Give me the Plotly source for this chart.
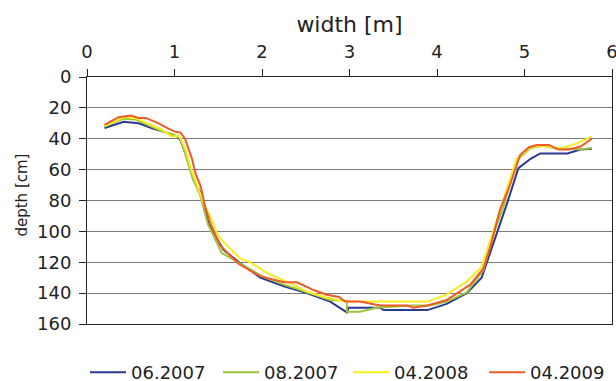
import plotly.graph_objects as go

# ---- data ----
names = ["06.2007", "08.2007", "04.2008", "04.2009"]
colors = ["#2B3990", "#9CC43C", "#F7EC1C", "#F05A28"]

x_0607 = [0.20, 0.42, 0.59, 0.76, 0.91, 1.03, 1.07, 1.14, 1.22, 1.30, 1.39, 1.56, 1.75, 1.98, 2.25, 2.51,
          2.78, 2.97, 2.99, 3.35, 3.39, 3.89, 4.11, 4.34, 4.51, 4.69, 4.80, 4.93, 5.07, 5.18, 5.49, 5.64, 5.77]
y_0607 = [33, 29, 30, 33.5, 36, 38.5, 41, 52, 67, 75, 95, 112, 120.5, 130, 135.5, 140,
          145.5, 152.5, 149.5, 149.5, 151, 151, 147, 140, 130, 101, 82, 59, 53, 49.5, 49.5, 47, 46.5]

x_0807 = [0.20, 0.42, 0.55, 0.70, 0.85, 1.00, 1.07, 1.14, 1.21, 1.29, 1.38, 1.54, 1.75, 2.00, 2.25, 2.50,
          2.78, 2.97, 2.97, 3.12, 3.31, 3.70, 3.92, 4.11, 4.34, 4.53, 4.65, 4.76, 4.91, 5.07, 5.22, 5.37,
          5.52, 5.64, 5.77]
y_0807 = [32, 27, 27.5, 31, 35, 37.5, 40, 53, 66, 76, 95, 114, 121, 129, 134.5, 139,
          144.5, 145, 152, 152, 149.5, 148, 148, 145.5, 139.5, 125, 101, 84, 54, 46, 44.5, 46.5,
          46.5, 47, 46]

x_0408 = [0.20, 0.42, 0.55, 0.70, 0.85, 0.97, 1.05, 1.12, 1.19, 1.27, 1.35, 1.41, 1.49, 1.56, 1.75, 1.87,
          2.06, 2.30, 2.51, 2.74, 2.97, 3.35, 3.89, 4.11, 4.34, 4.51, 4.65, 4.76, 4.91, 5.07, 5.22, 5.41,
          5.60, 5.77]
y_0408 = [32, 26, 26.5, 30, 34, 38.5, 38, 46, 60, 72, 84, 90.5, 102, 107, 117.5, 120.2,
          127, 133, 139, 143, 145.5, 145.5, 145.5, 141, 132.5, 123, 99, 80, 53, 45.5, 44.5, 46.3,
          43, 38.5]

x_0409 = [0.20, 0.36, 0.50, 0.59, 0.67, 0.80, 0.93, 1.01, 1.07, 1.12, 1.20, 1.24, 1.30, 1.35, 1.41, 1.52,
          1.73, 1.98, 2.25, 2.40, 2.59, 2.74, 2.88, 2.95, 3.12, 3.35, 3.66, 3.73, 3.89, 4.11, 4.38, 4.53,
          4.61, 4.72, 4.84, 4.95, 5.05, 5.14, 5.28, 5.39, 5.51, 5.64, 5.77]
y_0409 = [31, 26, 25, 26.5, 26.5, 29.5, 33.5, 35.5, 36, 40, 53, 62.5, 71, 84, 95, 109,
          121, 129, 133, 133, 138, 141, 142.5, 145.5, 145.5, 148, 148, 149.5, 148, 144.5, 134.5, 124,
          110, 86, 69, 50.5, 45.5, 44, 44, 47, 47, 45, 40]

x_ticks = [0, 1, 2, 3, 4, 5, 6]
y_ticks = [0, 20, 40, 60, 80, 100, 120, 140, 160]

series = [(x_0607, y_0607), (x_0807, y_0807), (x_0408, y_0408), (x_0409, y_0409)]

W, H = 616, 381
legend_ids = ["legend", "legend2", "legend3", "legend4"]
legend_left_px = [85, 218, 348, 484]

fig = go.Figure()
for (xs, ys), nm, col, lid in zip(series, names, colors, legend_ids):
    fig.add_trace(go.Scatter(x=xs, y=ys, mode="lines", name=nm, legend=lid,
                             line=dict(color=col, width=2)))

font_family = "DejaVu Sans, sans-serif"
layout_legends = {}
for lid, lx in zip(legend_ids, legend_left_px):
    layout_legends[lid] = dict(orientation="h", xref="container", x=lx / W, xanchor="left",
                               yref="container", y=8.5 / H, yanchor="middle",
                               font=dict(size=18), itemwidth=36,
                               bgcolor="rgba(0,0,0,0)")

fig.update_layout(
    width=W, height=H,
    margin=dict(l=87, r=4, t=77, b=57),
    paper_bgcolor="white", plot_bgcolor="white",
    font=dict(family=font_family, size=18, color="#222222"),
    showlegend=True,
    xaxis=dict(range=[0, 6], side="top", tickvals=x_ticks, ticks="outside", ticklen=7,
               tickcolor="#222", showline=True, linecolor="#222", linewidth=1, mirror=True,
               showgrid=False, zeroline=False, automargin=False, ticklabelstandoff=4,
               ticklabeloverflow="allow",
               title=dict(text="width [m]", standoff=2)),
    yaxis=dict(range=[160, 0], tickvals=y_ticks, ticks="outside", ticklen=7,
               tickcolor="#222", showline=True, linecolor="#222", linewidth=1, mirror=True,
               showgrid=True, gridcolor="#7a7a7a", gridwidth=1, zeroline=False, automargin=False,
               ticklabelstandoff=4, ticklabeloverflow="allow"),
    annotations=[dict(text="depth [cm]", textangle=-90, xref="paper", yref="paper",
                      x=-0.1229, y=0.522, xanchor="center", yanchor="middle",
                      showarrow=False, font=dict(family=font_family, size=15, color="#222222"))],
    **layout_legends,
)

fig.write_html("out.html", config={"displayModeBar": False},
               post_script="document.body.style.margin='0px';")
